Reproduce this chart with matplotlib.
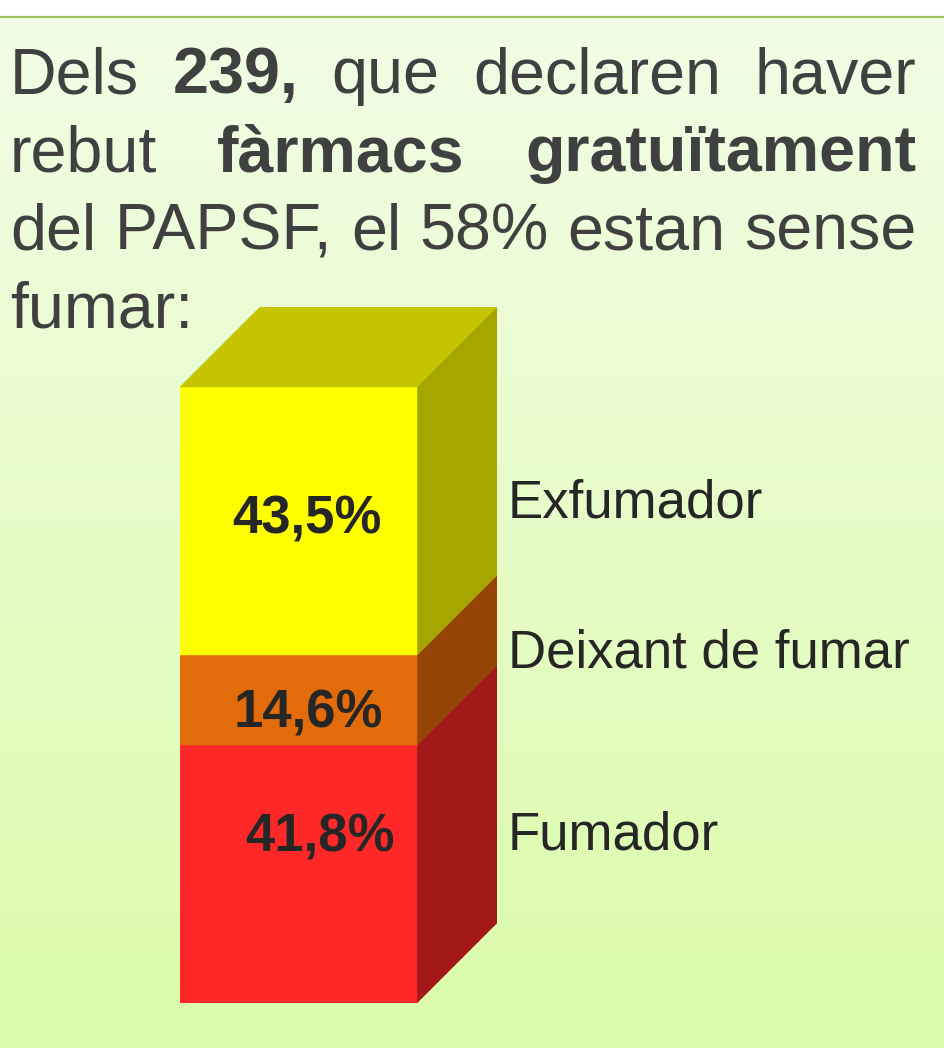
import numpy as np
import matplotlib
matplotlib.use("Agg")
import matplotlib.pyplot as plt
from matplotlib.patches import Polygon

# ---- data ----
categories = ["Fumador", "Deixant de fumar", "Exfumador"]
values = [41.8, 14.6, 43.5]
value_labels = ["41,8%", "14,6%", "43,5%"]
front_colors = ["#FF2828", "#E36C0A", "#FFFF00"]
side_colors = ["#A31919", "#944506", "#A6A600"]
top_color = "#C4C400"

title_lines = [
    [("Dels", "normal"), ("239,", "bold"), ("que", "normal"), ("declaren", "normal"), ("haver", "normal")],
    [("rebut", "normal"), ("fàrmacs", "bold"), ("gratuïtament", "bold")],
    [("del", "normal"), ("PAPSF,", "normal"), ("el", "normal"), ("58%", "normal"), ("estan", "normal"), ("sense", "normal")],
    [("fumar:", "normal")],
]

W, H = 945, 1048
FONT = "Liberation Sans"
fig = plt.figure(figsize=(W / 100, H / 100), dpi=100, facecolor="white")

# background axes in pixel coordinates
bg = fig.add_axes([0, 0, 1, 1])
bg.set_xlim(0, W)
bg.set_ylim(H, 0)
bg.axis("off")
top_rgb = np.array([0xF2, 0xFD, 0xE6]) / 255
bot_rgb = np.array([0xDB, 0xFC, 0xAA]) / 255
t = np.linspace(0, 1, 256)[:, None, None]
grad = top_rgb[None, None, :] * (1 - t) + bot_rgb[None, None, :] * t
bg.imshow(grad, extent=(0, W, H, 17), aspect="auto", origin="upper", zorder=0)
bg.plot([0, W], [17, 17], color="#9CC45C", lw=1.6, zorder=1, solid_capstyle="butt")

# ---- justified title text ----
renderer = fig.canvas.get_renderer()
left, right = 10, 916
baselines = [93, 171, 249, 327]
fs_title = 46.5
txt_color = "#404040"
for li, (words, yb) in enumerate(zip(title_lines, baselines)):
    fs = fs_title
    last = li == len(title_lines) - 1
    while True:
        objs = [bg.text(0, yb, w, fontsize=fs, fontweight=wt, family=FONT,
                        color=txt_color, va="baseline", ha="left", zorder=3)
                for w, wt in words]
        widths = [o.get_window_extent(renderer).width for o in objs]
        space_w = 0.278 * fs * 100 / 72
        if last or len(words) == 1:
            gap = space_w
        else:
            gap = (right - left - sum(widths)) / (len(words) - 1)
        if gap >= space_w * 0.8 or last:
            break
        for o in objs:
            o.remove()
        fs *= 0.99
    x = left
    for o, w in zip(objs, widths):
        o.set_x(x)
        x += w + gap

# ---- 3D stacked bar ----
total = sum(values)
front_top_px, front_bot_px = 387, 1003
bar_left_px, bar_right_px = 180, 417
depth_px = 80
px_per_unit = (front_bot_px - front_top_px) / total
ax = fig.add_axes([bar_left_px / W, (H - front_bot_px) / H,
                   (bar_right_px + depth_px - bar_left_px) / W,
                   (front_bot_px - front_top_px + depth_px) / H])
ax.axis("off")
bw = 1.0
dx = depth_px / (bar_right_px - bar_left_px)
dy = depth_px / px_per_unit
ax.set_xlim(0, bw + dx)
ax.set_ylim(0, total + dy)

cum = np.concatenate([[0], np.cumsum(values)])
for i in range(len(values)):
    y0, y1 = cum[i], cum[i + 1]
    ax.add_patch(Polygon([(bw, y0), (bw + dx, y0 + dy), (bw + dx, y1 + dy), (bw, y1)],
                         closed=True, facecolor=side_colors[i], edgecolor=side_colors[i],
                         lw=0.3, zorder=1))
for i in range(len(values)):
    y0, y1 = cum[i], cum[i + 1]
    ax.add_patch(Polygon([(0, y0), (bw, y0), (bw, y1), (0, y1)], closed=True,
                         facecolor=front_colors[i], edgecolor=front_colors[i], lw=0.3, zorder=2))
top = cum[-1]
ax.add_patch(Polygon([(0, top), (dx, top + dy), (bw + dx, top + dy), (bw, top)], closed=True,
                     facecolor=top_color, edgecolor=top_color, lw=0.3, zorder=2))

# value labels (pixel positions of label centres), drawn above all axes
label_pos_px = [(320, 837), (308, 714), (307, 519)]
for lab, (xp, yp) in zip(value_labels, label_pos_px):
    fig.text(xp, yp, lab, transform=bg.transData, fontsize=38, fontweight="bold",
             family=FONT, color="#262626", ha="center", va="center", zorder=5)

# category labels
cat_pos_px = [(508, 836), (508, 653), (508, 503)]
for cat, (xp, yp) in zip(categories, cat_pos_px):
    fig.text(xp, yp, cat, transform=bg.transData, fontsize=38, family=FONT,
             color="#262626", ha="left", va="center", zorder=5)

fig.savefig("out.png", dpi=100, facecolor="white")
